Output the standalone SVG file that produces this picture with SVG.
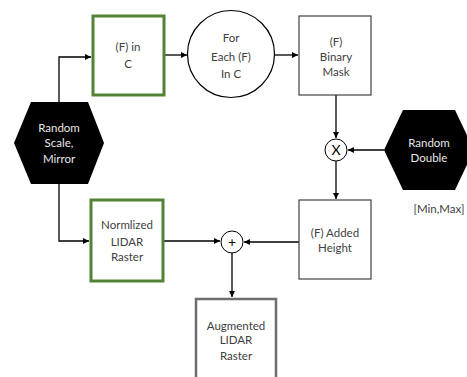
<svg xmlns="http://www.w3.org/2000/svg" width="467" height="377" viewBox="0 0 467 377">
<defs>
<marker id="ah" viewBox="0 0 10 10" refX="10" refY="5" markerWidth="6" markerHeight="6" markerUnits="userSpaceOnUse" orient="auto">
<path d="M0,0 L10,5 L0,10 z" fill="#000"/>
</marker>
</defs>
<style>
.t{font-family:Lato,"Open Sans","Liberation Sans",sans-serif;font-size:11.5px;fill:#404040;text-anchor:middle}
.w{fill:#e8e8e8}
.box{fill:#fff;stroke:#404040;stroke-width:1.2}
.green{fill:#fff;stroke:#548235;stroke-width:3}
.gray{fill:#fff;stroke:#6e6e6e;stroke-width:2.5}
.hex{fill:#000}
.c{stroke:#000;stroke-width:1.3;fill:none;marker-end:url(#ah)}
.op{fill:#fff;stroke:#000;stroke-width:1}
.sym{font-family:Lato,"Open Sans","Liberation Sans",sans-serif;font-size:14px;fill:#000;text-anchor:middle}
</style>
<rect width="467" height="377" fill="#fff"/>
<g id="connectors">
<path class="c" d="M59,102 V57 H91"/>
<path class="c" d="M165,55 H187"/>
<path class="c" d="M274,55 H298"/>
<path class="c" d="M336,95 V138"/>
<path class="c" d="M384,150 H348"/>
<path class="c" d="M336,161 V199"/>
<path class="c" d="M299,242 H244"/>
<path class="c" d="M59,184 V241 H89"/>
<path class="c" d="M164,241 H220"/>
<path class="c" d="M232,253 V297"/>
</g>
<g id="node-f-in-c">
<rect class="green" x="93" y="16" width="71" height="79"/>
<text class="t" x="128" y="51">(F) in</text>
<text class="t" x="128" y="68">C</text>
</g>
<g id="node-for-each">
<circle cx="231" cy="54" r="43.5" fill="#fff" stroke="#000" stroke-width="1.2"/>
<text class="t" x="231" y="42">For</text>
<text class="t" x="231" y="61">Each (F)</text>
<text class="t" x="231" y="78">In C</text>
</g>
<g id="node-binary-mask">
<rect class="box" x="299" y="16" width="72" height="79"/>
<text class="t" x="336" y="46">(F)</text>
<text class="t" x="336" y="61">Binary</text>
<text class="t" x="336" y="76">Mask</text>
</g>
<g id="node-random-scale">
<polygon class="hex" points="14,143 31,102 88,102 104,143 88,184 31,184"/>
<text class="t w" x="59" y="132">Random</text>
<text class="t w" x="59" y="147">Scale,</text>
<text class="t w" x="59" y="163">Mirror</text>
</g>
<g id="node-multiply">
<circle class="op" cx="336" cy="150" r="11"/>
<text class="sym" x="336" y="155">X</text>
</g>
<g id="node-random-double">
<polygon class="hex" points="384,150 403,110 455,110 474,150 455,190 403,190"/>
<text class="t w" x="429" y="147">Random</text>
<text class="t w" x="429" y="162">Double</text>
<text class="t" x="439" y="213">[Min,Max]</text>
</g>
<g id="node-added-height">
<rect class="box" x="299" y="200" width="72" height="79"/>
<text class="t" x="335" y="237">(F) Added</text>
<text class="t" x="335" y="252">Height</text>
</g>
<g id="node-normalized">
<rect class="green" x="91" y="200" width="72" height="81"/>
<text class="t" x="127" y="229">Normlized</text>
<text class="t" x="127" y="246">LIDAR</text>
<text class="t" x="127" y="261">Raster</text>
</g>
<g id="node-plus">
<circle class="op" cx="232" cy="242" r="11"/>
<text class="sym" x="232" y="247">+</text>
</g>
<g id="node-augmented">
<rect class="gray" x="196" y="299" width="80" height="82"/>
<text class="t" x="236" y="330">Augmented</text>
<text class="t" x="236" y="344">LIDAR</text>
<text class="t" x="236" y="360">Raster</text>
</g>
</svg>
